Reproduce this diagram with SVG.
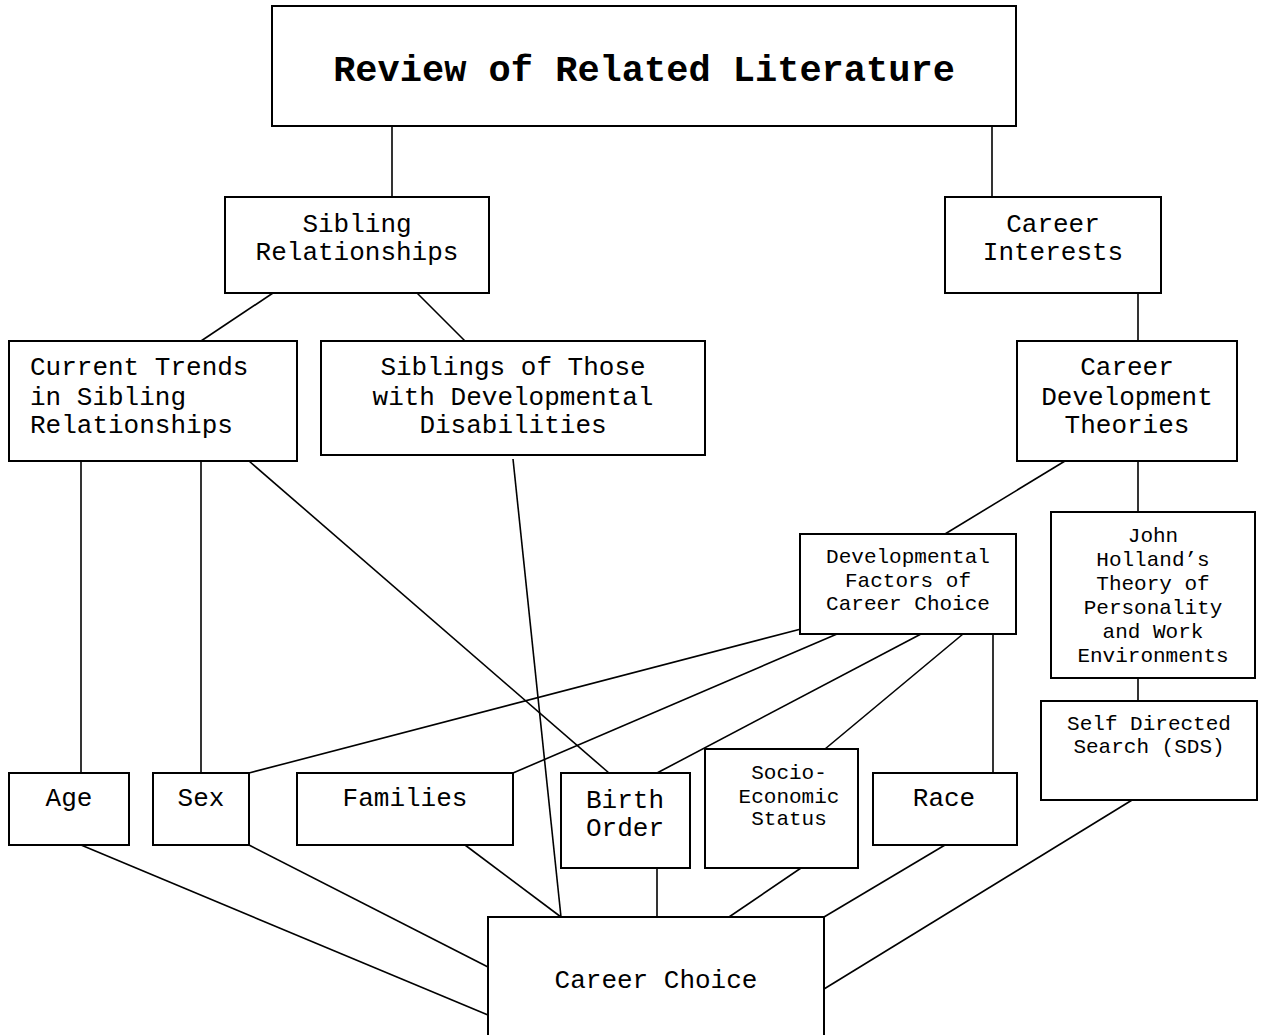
<svg xmlns="http://www.w3.org/2000/svg" width="1262" height="1035" viewBox="0 0 1262 1035">
<style>
rect{fill:#fff;stroke:#000;stroke-width:2}
#connectors line{stroke:#000;stroke-width:1.6}
text{font-family:"Liberation Mono","Courier New",monospace;fill:#000;text-anchor:middle}
.t{font-size:26px}
.s{font-size:21px}
.b{font-size:37px;font-weight:bold}
</style>
<rect x="0" y="0" width="1262" height="1035" style="stroke:none"/>
<g id="connectors">
<line x1="392" y1="126" x2="392" y2="197"/>
<line x1="992" y1="126" x2="992" y2="197"/>
<line x1="273" y1="293" x2="201" y2="341"/>
<line x1="417" y1="293" x2="465" y2="341"/>
<line x1="1138" y1="293" x2="1138" y2="341"/>
<line x1="1065" y1="461" x2="945" y2="534"/>
<line x1="1138" y1="461" x2="1138" y2="512"/>
<line x1="1138" y1="678" x2="1138" y2="701"/>
<line x1="81" y1="461" x2="81" y2="773"/>
<line x1="201" y1="461" x2="201" y2="773"/>
<line x1="249" y1="461" x2="609" y2="773"/>
<line x1="513" y1="459" x2="561" y2="917"/>
<line x1="801" y1="629" x2="249" y2="773"/>
<line x1="837" y1="634" x2="513" y2="773"/>
<line x1="921" y1="634" x2="657" y2="773"/>
<line x1="969" y1="629" x2="825" y2="749"/>
<line x1="993" y1="629" x2="993" y2="773"/>
<line x1="81" y1="845" x2="488" y2="1015"/>
<line x1="249" y1="845" x2="488" y2="967"/>
<line x1="465" y1="845" x2="561" y2="917"/>
<line x1="657" y1="868" x2="657" y2="917"/>
<line x1="801" y1="868" x2="729" y2="917"/>
<line x1="945" y1="845" x2="824" y2="917"/>
<line x1="1137" y1="797" x2="824" y2="989"/>
</g>
<g id="review"><rect x="272" y="6" width="744" height="120"/><text class="b" x="644" y="81">Review of Related Literature</text></g>
<g id="sibling"><rect x="225" y="197" width="264" height="96"/><text class="t" x="357" y="232">Sibling</text><text class="t" x="357" y="260">Relationships</text></g>
<g id="careerInterests"><rect x="945" y="197" width="216" height="96"/><text class="t" x="1053" y="232">Career</text><text class="t" x="1053" y="260">Interests</text></g>
<g id="currentTrends"><rect x="9" y="341" width="288" height="120"/><text class="t" x="30" y="375" style="text-anchor:start">Current Trends</text><text class="t" x="30" y="405" style="text-anchor:start">in Sibling</text><text class="t" x="30" y="433" style="text-anchor:start">Relationships</text></g>
<g id="siblingsDD"><rect x="321" y="341" width="384" height="114"/><text class="t" x="513" y="375">Siblings of Those</text><text class="t" x="513" y="405">with Developmental</text><text class="t" x="513" y="433">Disabilities</text></g>
<g id="careerDev"><rect x="1017" y="341" width="220" height="120"/><text class="t" x="1127" y="375">Career</text><text class="t" x="1127" y="405">Development</text><text class="t" x="1127" y="433">Theories</text></g>
<g id="devFactors"><rect x="800" y="534" width="216" height="100"/><text class="s" x="908" y="563">Developmental</text><text class="s" x="908" y="587">Factors of</text><text class="s" x="908" y="610">Career Choice</text></g>
<g id="holland"><rect x="1051" y="512" width="204" height="166"/><text class="s" x="1153" y="542">John</text><text class="s" x="1153" y="566">Holland’s</text><text class="s" x="1153" y="590">Theory of</text><text class="s" x="1153" y="614">Personality</text><text class="s" x="1153" y="638">and Work</text><text class="s" x="1153" y="662">Environments</text></g>
<g id="sds"><rect x="1041" y="701" width="216" height="99"/><text class="s" x="1149" y="730">Self Directed</text><text class="s" x="1149" y="753">Search (SDS)</text></g>
<g id="age"><rect x="9" y="773" width="120" height="72"/><text class="t" x="69" y="806">Age</text></g>
<g id="sex"><rect x="153" y="773" width="96" height="72"/><text class="t" x="201" y="806">Sex</text></g>
<g id="families"><rect x="297" y="773" width="216" height="72"/><text class="t" x="405" y="806">Families</text></g>
<g id="birthOrder"><rect x="561" y="773" width="129" height="95"/><text class="t" x="625" y="808">Birth</text><text class="t" x="625" y="836">Order</text></g>
<g id="ses"><rect x="705" y="749" width="153" height="119"/><text class="s" x="789" y="779">Socio-</text><text class="s" x="789" y="803">Economic</text><text class="s" x="789" y="825">Status</text></g>
<g id="race"><rect x="873" y="773" width="144" height="72"/><text class="t" x="944" y="806">Race</text></g>
<g id="careerChoice"><rect x="488" y="917" width="336" height="130"/><text class="t" x="656" y="988">Career Choice</text></g>
</svg>
